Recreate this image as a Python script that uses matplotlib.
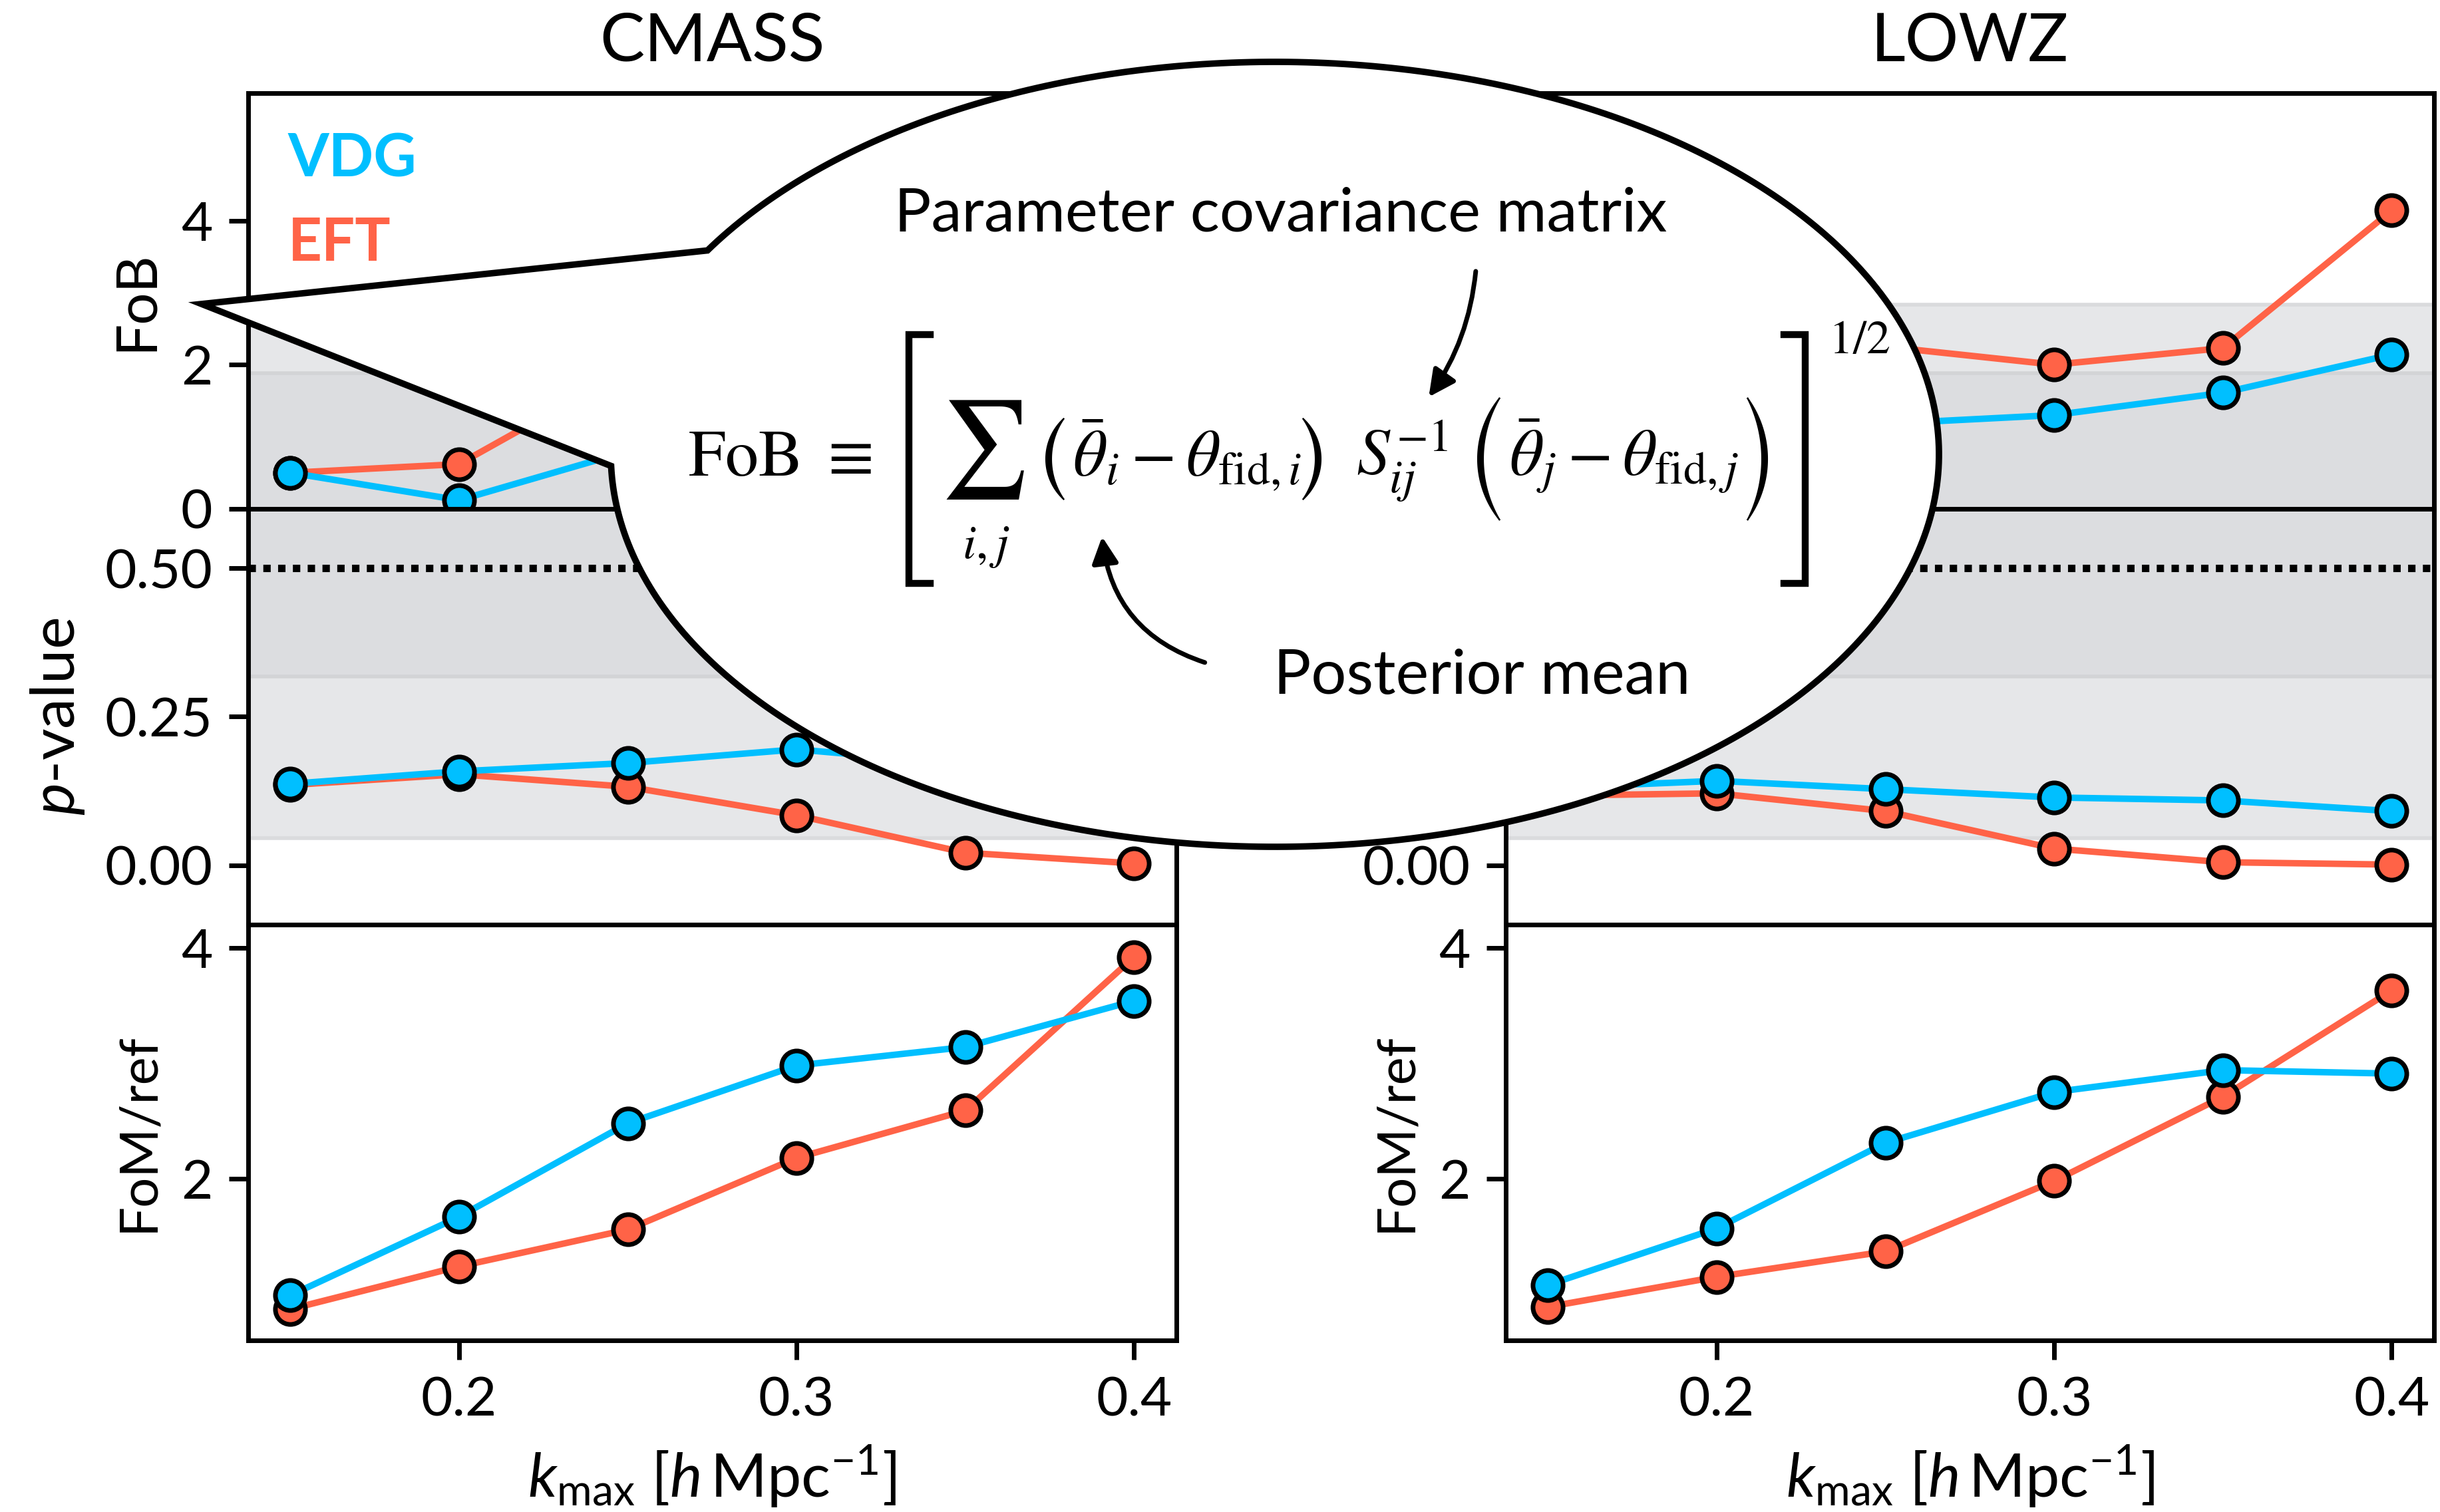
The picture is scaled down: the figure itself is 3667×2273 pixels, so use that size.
import numpy as np
import matplotlib
matplotlib.use("Agg")
import matplotlib.pyplot as plt
from matplotlib.patches import Polygon, FancyArrowPatch
from matplotlib.lines import Line2D

FONT = "Lato"
plt.rcParams.update({
    "font.family": [FONT, "DejaVu Sans"],
    "mathtext.fontset": "custom",
    "mathtext.rm": FONT,
    "mathtext.it": FONT + ":italic",
    "mathtext.bf": FONT + ":bold",
    "axes.linewidth": 1.0,
    "xtick.major.width": 1.0,
    "ytick.major.width": 1.0,
    "xtick.major.size": 4.2,
    "ytick.major.size": 4.2,
    "xtick.labelsize": 11.8,
    "ytick.labelsize": 11.8,
    "axes.labelsize": 12,
})

# ---------------------------------------------------------------- data
KMAX = [0.15, 0.20, 0.25, 0.30, 0.35, 0.40]

# CMASS
CMASS_FOB_VDG = [0.50, 0.12, 0.80, 0.95, 1.05, 1.25]
CMASS_FOB_EFT = [0.50, 0.62, 1.93, 2.40, 2.70, 3.40]
CMASS_P_VDG = [0.137, 0.158, 0.172, 0.195, 0.170, 0.150]
CMASS_P_EFT = [0.135, 0.153, 0.132, 0.084, 0.021, 0.003]
CMASS_FOM_VDG = [0.99, 1.67, 2.48, 2.98, 3.14, 3.54]
CMASS_FOM_EFT = [0.87, 1.24, 1.56, 2.18, 2.59, 3.92]

# LOWZ
LOWZ_FOB_VDG = [0.90, 1.00, 1.18, 1.30, 1.61, 2.14]
LOWZ_FOB_EFT = [1.60, 2.00, 2.25, 2.00, 2.23, 4.14]
LOWZ_P_VDG = [0.130, 0.142, 0.128, 0.114, 0.109, 0.091]
LOWZ_P_EFT = [0.117, 0.121, 0.091, 0.028, 0.005, 0.001]
LOWZ_FOM_VDG = [1.08, 1.57, 2.31, 2.75, 2.94, 2.91]
LOWZ_FOM_EFT = [0.89, 1.15, 1.37, 1.98, 2.71, 3.63]

SAMPLES = ["CMASS", "LOWZ"]
FOB = {"CMASS": (CMASS_FOB_VDG, CMASS_FOB_EFT), "LOWZ": (LOWZ_FOB_VDG, LOWZ_FOB_EFT)}
PVAL = {"CMASS": (CMASS_P_VDG, CMASS_P_EFT), "LOWZ": (LOWZ_P_VDG, LOWZ_P_EFT)}
FOM = {"CMASS": (CMASS_FOM_VDG, CMASS_FOM_EFT), "LOWZ": (LOWZ_FOM_VDG, LOWZ_FOM_EFT)}

# 1 and 2 sigma thresholds (FoB: sqrt of chi2 quantiles for 3 dof)
FOB_1S, FOB_2S = 1.878, 2.833
P_1S, P_2S = 0.3173, 0.0455

C_VDG = "deepskyblue"
C_EFT = "tomato"
DARK = "#dcdde0"
LIGHT = "#e6e7e9"

W, H = 3667, 2273
fig = plt.figure(figsize=(W / 500, H / 500), dpi=500)
gs = fig.add_gridspec(3, 2, left=0.1017, right=0.9975, bottom=0.1135, top=0.9385,
                      hspace=0, wspace=0.355)


def draw(ax, vdg, eft):
    ax.plot(KMAX, eft, "-o", color=C_EFT, lw=1.4, ms=6.5, mec="k", mew=1.0, zorder=3)
    ax.plot(KMAX, vdg, "-o", color=C_VDG, lw=1.4, ms=6.5, mec="k", mew=1.0, zorder=4)


for col, name in enumerate(SAMPLES):
    ax1 = fig.add_subplot(gs[0, col])
    ax2 = fig.add_subplot(gs[1, col], sharex=ax1)
    ax3 = fig.add_subplot(gs[2, col], sharex=ax1)

    # FoB
    ax1.axhspan(0, FOB_1S, color=DARK, lw=0, zorder=0)
    ax1.axhspan(FOB_1S, FOB_2S, color=LIGHT, lw=0, zorder=0)
    ax1.axhline(FOB_1S, color="#d3d4d6", lw=0.8, zorder=0.5)
    ax1.axhline(FOB_2S, color="#dadbdd", lw=0.8, zorder=0.5)
    draw(ax1, *FOB[name])
    ax1.set_ylim(0, 5.77)
    ax1.set_yticks([0, 2, 4])
    ax1.set_ylabel("FoB", fontsize=12.3)
    ax1.set_title(name, fontsize=14.5, pad=7)

    # p-value
    ax2.axhspan(P_1S, 1, color=DARK, lw=0, zorder=0)
    ax2.axhspan(P_2S, P_1S, color=LIGHT, lw=0, zorder=0)
    ax2.axhline(P_1S, color="#d3d4d6", lw=0.8, zorder=0.5)
    ax2.axhline(P_2S, color="#dadbdd", lw=0.8, zorder=0.5)
    ax2.axhline(0.5, color="k", ls=(0, (1, 1)), lw=1.6, zorder=2)
    draw(ax2, *PVAL[name])
    ax2.set_ylim(-0.1, 0.6)
    ax2.set_yticks([0, 0.25, 0.5])
    ax2.set_yticklabels(["0.00", "0.25", "0.50"])
    ax2.set_ylabel(r"$p$-value", fontsize=13.3)

    # FoM
    draw(ax3, *FOM[name])
    ax3.set_ylim(0.6, 4.2)
    ax3.set_yticks([2, 4])
    ax3.set_ylabel("FoM/ref", fontsize=11.5)
    ax3.set_xticks([0.2, 0.3, 0.4])
    ax3.set_xlabel(r"$k_\mathrm{max}$ [$h\,$Mpc$^{-1}$]", fontsize=13.2)

    for ax in (ax1, ax2):
        ax.tick_params(axis="x", bottom=False, labelbottom=False)

    if col == 0:
        ax1.text(0.043, 0.84, "VDG", color=C_VDG, fontweight="bold", fontsize=12.8,
                 transform=ax1.transAxes, ha="left", va="center")
        ax1.text(0.043, 0.638, "EFT", color=C_EFT, fontweight="bold", fontsize=12.8,
                 transform=ax1.transAxes, ha="left", va="center")


# ---------------------------------------------------------------- speech balloon
def px(x, y):
    """reference pixel (y down) -> figure fraction"""
    return x / W, 1 - y / H


def fig_line(xs, ys, **kw):
    fx, fy = zip(*[px(x, y) for x, y in zip(xs, ys)])
    fig.add_artist(Line2D(fx, fy, color="k", transform=fig.transFigure, zorder=12, **kw))


def arc_x(x_end, sag, y_top, y_bot, n=60):
    """circular arc through (x_end, y_top), (x_end, y_bot) bulging by sag (signed)"""
    h = (y_bot - y_top) / 2
    R = (h ** 2 + sag ** 2) / (2 * abs(sag))
    phi_max = np.arcsin(h / R)
    phi = np.linspace(-phi_max, phi_max, n)
    sgn = np.sign(sag)
    xs = x_end + sgn * (R * np.cos(phi) - R * np.cos(phi_max))
    ys = (y_top + y_bot) / 2 + R * np.sin(phi)
    return xs, ys


def paren(x_end, x_bulge, y_top, y_bot, thick=9):
    """filled crescent-shaped parenthesis in reference pixel coords"""
    sag = x_bulge - x_end
    xo, yo = arc_x(x_end, sag, y_top, y_bot)
    xi, yi = arc_x(x_end, sag - np.sign(sag) * thick, y_top, y_bot)
    pts = [px(x, y) for x, y in zip(xo, yo)] + [px(x, y) for x, y in zip(xi[::-1], yi[::-1])]
    fig.add_artist(Polygon(pts, closed=True, facecolor="k", edgecolor="k", lw=0.3,
                           transform=fig.transFigure, zorder=12))


CX, CY, A, B = 1916, 683, 998, 590
TIP = (303, 457)
t = np.radians(np.linspace(178.3, -148.7, 400))
pts = [px(CX + A * np.cos(tt), CY + B * np.sin(tt)) for tt in t]
pts.append(px(*TIP))
balloon = Polygon(pts, closed=True, facecolor="white", edgecolor="k", lw=1.4,
                  joinstyle="miter", transform=fig.transFigure, zorder=10)
fig.add_artist(balloon)

fig.text(*px(1925, 322), "Parameter covariance matrix", fontsize=13.3, ha="center",
         va="center", zorder=12)
fig.text(*px(2227, 1017), "Posterior mean", fontsize=13.5, ha="center", va="center",
         zorder=12)

# formula, assembled piece by piece
FS = 14.4
BASE = 715
math_kw = dict(math_fontfamily="stix", zorder=12)
fig.text(*px(1034, BASE), r"$\mathrm{FoB}\ \equiv$", fontsize=FS, ha="left",
         va="baseline", **math_kw)
fig.text(*px(1476, 676), r"$\sum$", fontsize=21, ha="center", va="center", **math_kw)
fig.text(*px(1482, 823), r"$i,j$", fontsize=10.5, ha="center", va="center", **math_kw)
fig.text(*px(1612, BASE), r"$\bar{\theta}_i - \theta_{\mathrm{fid},i}$",
         fontsize=FS, ha="left", va="baseline", **math_kw)
fig.text(*px(2038, BASE), r"$S^{-1}_{ij}$", fontsize=FS, ha="left", va="baseline",
         **math_kw)
fig.text(*px(2268, BASE), r"$\bar{\theta}_j - \theta_{\mathrm{fid},j}$",
         fontsize=FS, ha="left", va="baseline", **math_kw)
fig.text(*px(2748, 478), r"$1/2$", fontsize=10.4, ha="left", va="top", **math_kw)

# parentheses and brackets
paren(1599, 1572, 629, 751, thick=8)
paren(1958, 1985, 629, 751, thick=8)
paren(2254, 2221, 598, 782, thick=8)
paren(2626, 2656, 598, 782, thick=8)
fig_line([1398, 1366, 1366, 1398], [503, 503, 877, 877], lw=1.5, solid_joinstyle="miter")
fig_line([2681, 2713, 2713, 2681], [503, 503, 877, 877], lw=1.5, solid_joinstyle="miter")

arr1 = FancyArrowPatch(px(2219, 394), px(2139, 608), transform=fig.transFigure,
                       arrowstyle="-|>", mutation_scale=12, lw=1.0, color="k",
                       connectionstyle="arc3,rad=-0.15", zorder=11)
arr2 = FancyArrowPatch(px(1824, 1000), px(1655, 793), transform=fig.transFigure,
                       arrowstyle="-|>", mutation_scale=12, lw=1.0, color="k",
                       connectionstyle="arc3,rad=-0.35", zorder=11)
fig.add_artist(arr1)
fig.add_artist(arr2)

fig.savefig("out.png", dpi=500)
